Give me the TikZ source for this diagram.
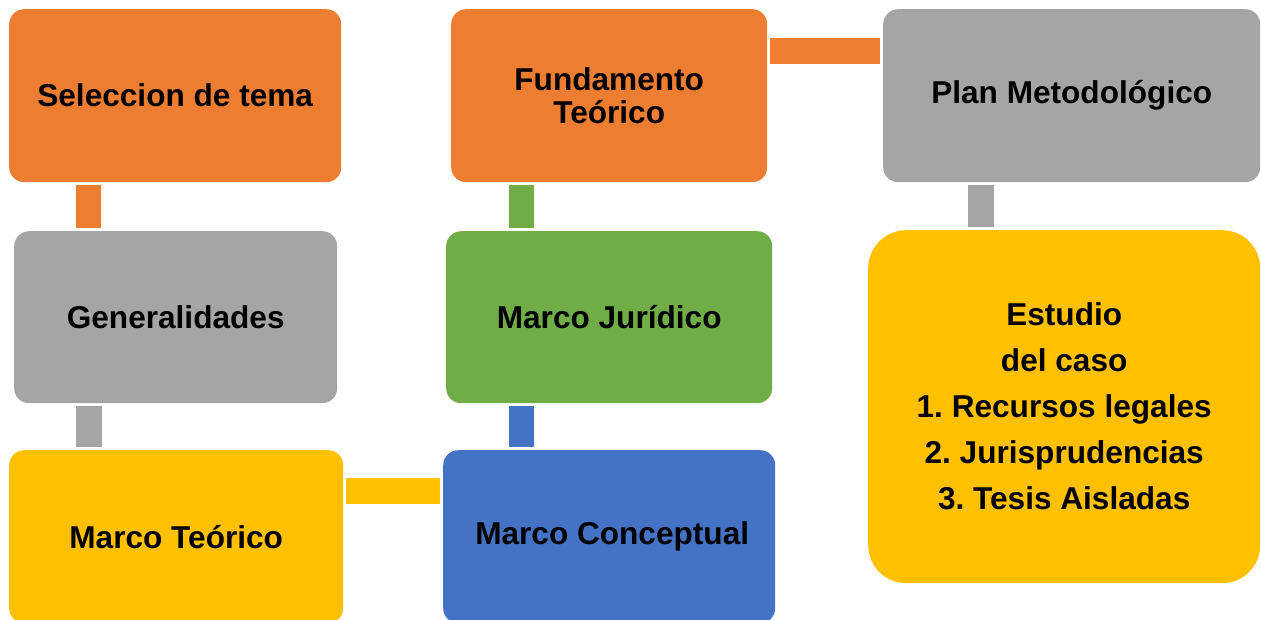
\documentclass[tikz,border=0pt]{standalone}
\usepackage{fontspec}
\setmainfont{Liberation Sans}
\frenchspacing
\definecolor{cOrange}{HTML}{ED7D31}
\definecolor{cGray}{HTML}{A5A5A5}
\definecolor{cYellow}{HTML}{FFC000}
\definecolor{cBlue}{HTML}{4472C4}
\definecolor{cGreen}{HTML}{70AD47}
\tikzset{
  box/.style={rounded corners=15pt, anchor=north west, inner sep=0pt, align=center,
    font=\bfseries\fontsize{31.6}{33}\selectfont, text=black},
  bar/.style={line width=#1, shorten <=3pt, shorten >=3pt},
}
\begin{document}
\begin{tikzpicture}[x=1pt,y=-1pt]
\useasboundingbox (0,0) rectangle (1261,619);
\clip (0,0) rectangle (1261,619);
\node[box, fill=cOrange, minimum width=332pt, minimum height=173pt] (sel) at (9,9) {Seleccion de tema};
\node[box, fill=cGray, minimum width=323pt, minimum height=172pt] (gen) at (14,231) {Generalidades};
\node[box, fill=cYellow, minimum width=334pt, minimum height=173pt] (mt) at (9,450) {Marco Teórico};
\node[box, fill=cBlue, minimum width=332pt, minimum height=173pt] (mc) at (443,450) {\hspace*{6pt}Marco Conceptual};
\node[box, fill=cGreen, minimum width=326pt, minimum height=172pt] (mj) at (446,231) {Marco Jurídico};
\node[box, fill=cOrange, minimum width=316pt, minimum height=173pt] (ft) at (451,9) {Fundamento\\Teórico};
\node[box, fill=cGray, minimum width=377pt, minimum height=173pt] (pm) at (883,9) {Plan Metodológico};
\node[box, fill=cYellow, rounded corners=38pt, minimum width=392pt, minimum height=353pt,
  font=\bfseries\fontsize{31.6}{46}\selectfont] (ec) at (868,230)
  {Estudio\\del caso\\1. Recursos legales\\2. Jurisprudencias\\3. Tesis Aisladas};
\coordinate (xa) at (88.5,0);
\coordinate (xb) at (521.5,0);
\coordinate (xc) at (980.5,0);
\coordinate (ya) at (0,491);
\coordinate (yb) at (0,51);
\draw[bar=25pt, cOrange] (sel.south -| xa) -- (gen.north -| xa);
\draw[bar=26pt, cGray] (gen.south -| xa) -- (mt.north -| xa);
\draw[bar=26pt, cYellow] (mt.east |- ya) -- (mc.west |- ya);
\draw[bar=25pt, cBlue] (mc.north -| xb) -- (mj.south -| xb);
\draw[bar=25pt, cGreen] (mj.north -| xb) -- (ft.south -| xb);
\draw[bar=26pt, cOrange] (ft.east |- yb) -- (pm.west |- yb);
\draw[bar=26pt, cGray] (pm.south -| xc) -- (ec.north -| xc);
\end{tikzpicture}
\end{document}
